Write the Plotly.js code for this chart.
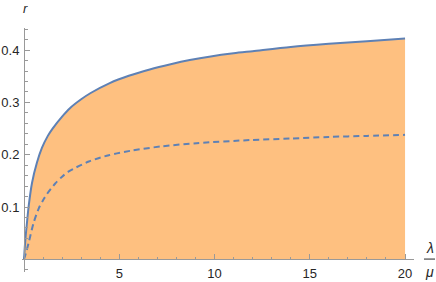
<!DOCTYPE html>
<html>
<head>
<meta charset="utf-8">
<script src="https://cdn.plot.ly/plotly-3.0.1.min.js"></script>
<style>html,body{margin:0;padding:0;background:#fff;}#chart{width:436px;height:282px;}</style>
</head>
<body>
<div id="chart"></div>
<script>
// Solid curve (upper bound)
var solidX = [0, 0.07, 0.15, 0.24, 0.42, 0.68, 0.94, 1.25, 1.5, 2.0, 2.41, 3.0, 3.5, 4.5, 5.5, 6.6, 7.7, 8.7, 9.8, 11, 12, 14, 16, 18, 20];
var solidR = [0, 0.037, 0.068, 0.100, 0.146, 0.185, 0.213, 0.236, 0.250, 0.273, 0.289, 0.306, 0.318, 0.337, 0.351, 0.363, 0.373, 0.381, 0.388, 0.394, 0.398, 0.406, 0.412, 0.417, 0.422];
// Dashed curve
var dashX = [0, 0.1, 0.24, 0.5, 0.77, 1.0, 1.21, 1.64, 2.0, 2.35, 3.4, 4.45, 5.67, 7.24, 9.06, 11.86, 14, 16, 18, 20];
var dashR = [0, 0.012, 0.031, 0.069, 0.097, 0.113, 0.125, 0.145, 0.158, 0.168, 0.187, 0.199, 0.208, 0.216, 0.222, 0.228, 0.231, 0.234, 0.236, 0.238];
// Ticks
var xTickVals = [5, 10, 15, 20];
var xTickText = ["5", "10", "15", "20"];
var yTickVals = [0.1, 0.2, 0.3, 0.4];
var yTickText = ["0.1", "0.2", "0.3", "0.4"];

var lineColor = "#5E81B5";
var fillColor = "#FEC080";
var axisColor = "#999999";
var labelColor = "#262626";
var fontFam = "Liberation Sans, Arial, sans-serif";

var xMin = -0.105, xMax = 20.47;
var yMin = -0.0243, yMax = 0.4423;

var traces = [
  {x: solidX, y: solidR, type: "scatter", mode: "lines", fill: "tozeroy", fillcolor: fillColor,
   line: {color: lineColor, width: 2, shape: "spline", smoothing: 0.8}, hoverinfo: "skip"},
  {x: dashX, y: dashR, type: "scatter", mode: "lines",
   line: {color: lineColor, width: 2, dash: "6px,4px", shape: "spline", smoothing: 0.8}, hoverinfo: "skip"}
];

var layout = {
  width: 436, height: 282,
  margin: {l: 22, r: 22, t: 28, b: 10, pad: 0},
  paper_bgcolor: "#fff", plot_bgcolor: "rgba(0,0,0,0)",
  showlegend: false,
  font: {family: fontFam, size: 13, color: labelColor},
  xaxis: {
    range: [xMin, xMax], anchor: "free", position: (0 - yMin) / (yMax - yMin),
    showgrid: false, zeroline: false, showline: true, linecolor: axisColor, linewidth: 1,
    ticks: "inside", ticklen: 5, tickcolor: axisColor, tickwidth: 1,
    tickvals: xTickVals, ticktext: xTickText,
    tickfont: {family: fontFam, size: 13, color: labelColor},
    minor: {dtick: 1, tick0: 0, ticks: "inside", ticklen: 2.7, tickcolor: axisColor, tickwidth: 1, showgrid: false},
    ticklabelstandoff: 2
  },
  yaxis: {
    range: [yMin, yMax], anchor: "free", position: (0 - xMin) / (xMax - xMin),
    showgrid: false, zeroline: false, showline: true, linecolor: axisColor, linewidth: 1,
    ticks: "inside", ticklen: 5, tickcolor: axisColor, tickwidth: 1,
    tickvals: yTickVals, ticktext: yTickText,
    tickfont: {family: fontFam, size: 13, color: labelColor},
    minor: {dtick: 0.02, tick0: 0, ticks: "inside", ticklen: 2.7, tickcolor: axisColor, tickwidth: 1, showgrid: false},
    ticklabelstandoff: 2
  },
  annotations: [
    {xref: "paper", yref: "paper", x: 0.008, y: 1.078, text: "<i>r</i>", showarrow: false,
     xanchor: "center", yanchor: "middle", font: {family: fontFam, size: 13, color: labelColor}},
    {xref: "paper", yref: "paper", x: 1.0408, y: 0.098, text: "<i>λ</i>", showarrow: false,
     xanchor: "center", yanchor: "middle", font: {family: fontFam, size: 14, color: labelColor}},
    {xref: "paper", yref: "paper", x: 1.0408, y: 0.0, text: "<i>μ</i>", showarrow: false,
     xanchor: "center", yanchor: "middle", font: {family: fontFam, size: 14, color: labelColor}}
  ],
  shapes: [
    {type: "line", xref: "paper", yref: "paper", x0: 1.0255, x1: 1.0536, y0: 0.053, y1: 0.053,
     line: {color: labelColor, width: 1}}
  ]
};

Plotly.newPlot("chart", traces, layout, {staticPlot: true, displayModeBar: false});
</script>
</body>
</html>
